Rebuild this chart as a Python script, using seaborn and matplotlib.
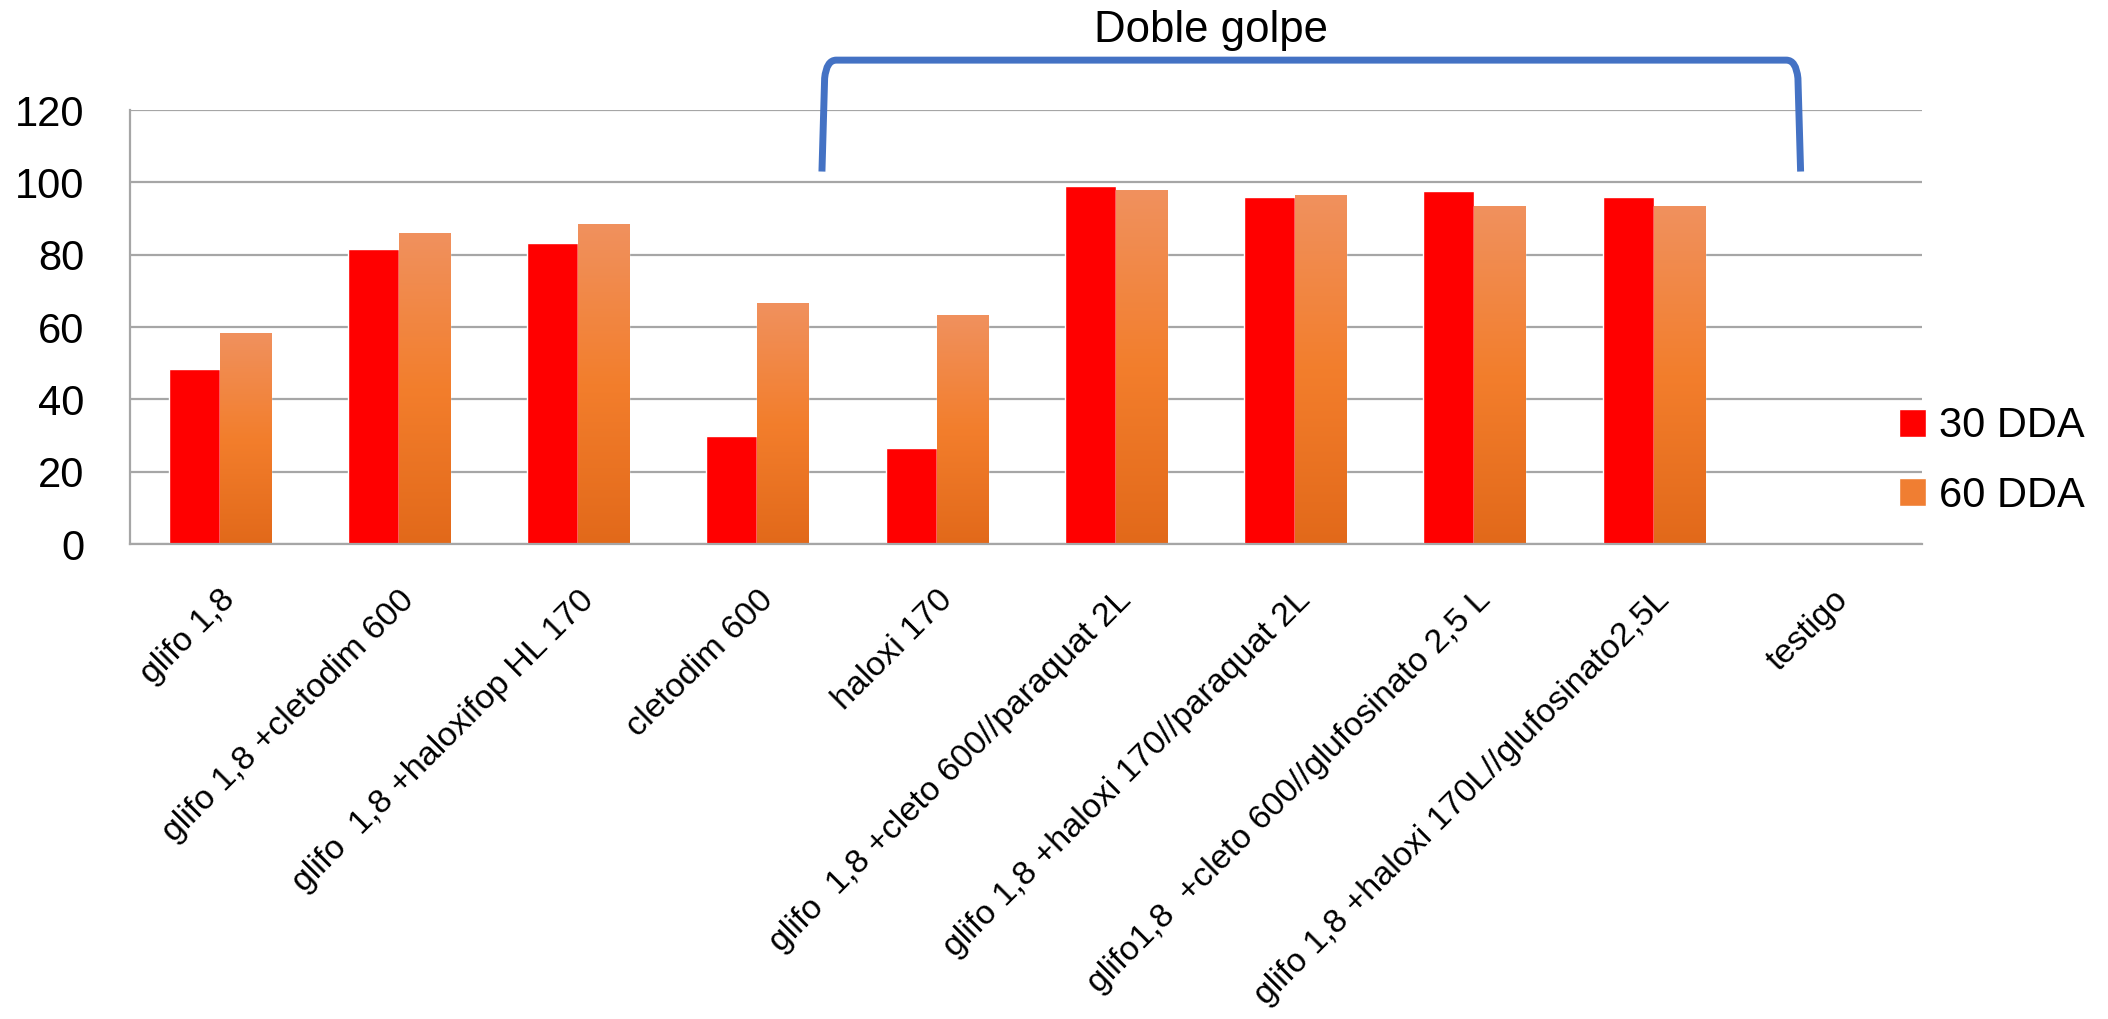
import matplotlib.pyplot as plt
import numpy as np
import pandas as pd
import seaborn as sns
from matplotlib.colors import LinearSegmentedColormap
from matplotlib.path import Path
from matplotlib.patches import PathPatch

tratamientos = [
    "glifo 1,8",
    "glifo 1,8 +cletodim 600",
    "glifo  1,8 +haloxifop HL 170",
    "cletodim 600",
    "haloxi 170",
    "glifo  1,8 +cleto 600//paraquat 2L",
    "glifo 1,8 +haloxi 170//paraquat 2L",
    "glifo1,8  +cleto 600//glufosinato 2,5 L",
    "glifo 1,8 +haloxi 170L//glufosinato2,5L",
    "testigo",
]
series = ["30 DDA", "60 DDA"]
dda_30 = [48.3, 81.5, 83.3, 29.8, 26.5, 98.9, 96.1, 97.5, 96.0, 0]
dda_60 = [58.3, 85.9, 88.4, 66.6, 63.3, 97.8, 96.4, 93.4, 93.4, 0]

df = pd.DataFrame({
    "tratamiento": tratamientos * 2,
    "serie": [series[0]] * len(tratamientos) + [series[1]] * len(tratamientos),
    "valor": dda_30 + dda_60,
})

sns.set_style("white")
plt.rcParams["font.family"] = ["Liberation Sans", "DejaVu Sans"]
plt.rcParams["text.color"] = "black"

fig, ax = plt.subplots(figsize=(21.08, 10.19), dpi=100)
fig.subplots_adjust(left=0.0617, right=0.912, bottom=0.466, top=0.892)

sns.barplot(data=df, x="tratamiento", y="valor", hue="serie",
            palette={"30 DDA": "#FF0000", "60 DDA": "#F07E32"},
            width=0.57, saturation=1, ax=ax)

# degradado en las barras naranjas
grad = np.linspace(0, 1, 256).reshape(-1, 1)
cmap = LinearSegmentedColormap.from_list("naranja", ["#E2691A", "#F37E2C", "#F0915E"])
for bar in ax.containers[1]:
    x0, w, h = bar.get_x(), bar.get_width(), bar.get_height()
    if h <= 0:
        continue
    im = ax.imshow(grad, extent=[x0, x0 + w, 0, h], origin="lower", cmap=cmap,
                   aspect="auto", zorder=bar.get_zorder() + 0.1)
    im.set_clip_path(bar)

ax.set_xlim(-0.5, len(tratamientos) - 0.5)
ax.set_ylim(0, 120)
ax.set_yticks(range(0, 121, 20))
ax.set_aspect("auto")
ax.set_xlabel("")
ax.set_ylabel("")

ax.set_axisbelow(True)
ax.yaxis.grid(True, color="#A6A6A6", lw=1.6)
for s in ["top", "right"]:
    ax.spines[s].set_visible(False)
for s in ["left", "bottom"]:
    ax.spines[s].set_color("#A6A6A6")
    ax.spines[s].set_linewidth(1.6)

ax.set_xticks(np.arange(-0.5, len(tratamientos)), minor=True)
ax.tick_params(axis="x", which="major", length=0, pad=29, labelcolor="black")
ax.tick_params(axis="x", which="minor", length=10, width=1.4, color="#A6A6A6")
ax.tick_params(axis="y", length=11, width=1.4, color="#A6A6A6", labelsize=30,
               pad=22, labelcolor="black")
ax.set_xticks(range(len(tratamientos)))
ax.set_xticklabels(tratamientos, rotation=45, ha="right", rotation_mode="anchor", fontsize=24.5)

# corchete "Doble golpe"
xl, xr, yb, yt = 3.36, 8.82, 103, 133.8
verts = [(xl, yb), (xl + 0.015, yt - 5), (xl + 0.025, yt), (xl + 0.08, yt),
         (xr - 0.08, yt), (xr - 0.025, yt), (xr - 0.015, yt - 5), (xr, yb)]
codes = [Path.MOVETO, Path.LINETO, Path.CURVE3, Path.CURVE3,
         Path.LINETO, Path.CURVE3, Path.CURVE3, Path.LINETO]
ax.add_patch(PathPatch(Path(verts, codes), fill=False, edgecolor="#4472C4",
                       lw=5, clip_on=False, capstyle="butt", joinstyle="round"))
ax.text(5.53, 142, "Doble golpe", ha="center", va="center", fontsize=31.5, clip_on=False)

ax.legend(loc="center left", bbox_to_anchor=(0.9009, 0.5476), bbox_transform=fig.transFigure,
          frameon=False, fontsize=30, handlelength=0.65, handleheight=0.65,
          handletextpad=0.3, labelspacing=0.7, borderpad=0, borderaxespad=0)

fig.savefig("out.png", dpi=100)
